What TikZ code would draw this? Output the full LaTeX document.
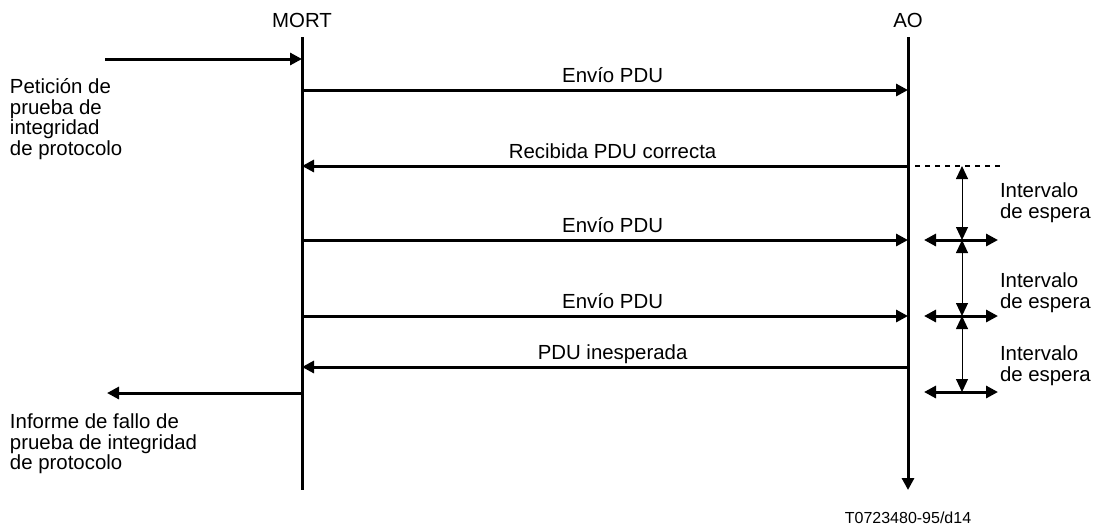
\documentclass[tikz,border=0pt]{standalone}
\usepackage{fontspec}
\setmainfont{Liberation Sans}
\usetikzlibrary{arrows.meta}

\begin{document}
\begin{tikzpicture}[x=0.5pt,y=-0.5pt,
  txt/.style={font=\fontsize{10.2}{10.3}\selectfont,inner sep=0,outer sep=0},
  lbl/.style={txt,align=left,anchor=west},
  msglbl/.style={txt,anchor=base,yshift=3.8pt,xshift=3.8pt},
  life/.style={line width=1.5pt},
  msg/.style={line width=1.5pt,-{Triangle[length=6pt,width=6pt]}},
  wait/.style={line width=0.5pt,{Triangle[length=6.5pt,width=6pt]}-{Triangle[length=6.5pt,width=6pt]}},
  tick/.style={line width=1.5pt,{Triangle[length=6pt,width=6pt]}-{Triangle[length=6pt,width=6pt]}}]
\useasboundingbox (0,0) rectangle (1095,527);

\node[txt] (MORT) at (302,20) {MORT};
\node[txt] (AO) at (908,20) {AO};
\coordinate (M0) at (302,37);
\coordinate (M1) at (302,490);
\coordinate (A0) at (908,37);
\coordinate (A1) at (908,490);
\draw[life] (M0) -- (M1);
\draw[msg] (A0) -- (A1);

\coordinate (req) at (105,59);
\coordinate (mreq) at (302,59);
\draw[msg] (req) -- (mreq);
\node[lbl] (reqlbl) at (10,119) {Petición de\\prueba de\\integridad\\de protocolo};

\coordinate (m1) at (302,90);
\coordinate (a1) at (908,90);
\coordinate (m2) at (302,166);
\coordinate (a2) at (908,166);
\coordinate (m3) at (302,240);
\coordinate (a3) at (908,240);
\coordinate (m4) at (302,316);
\coordinate (a4) at (908,316);
\coordinate (m5) at (302,367);
\coordinate (a5) at (908,367);
\draw[msg] (m1) -- node[msglbl] {Envío PDU} (a1);
\draw[msg] (a2) -- node[msglbl] {Recibida PDU correcta} (m2);
\draw[msg] (m3) -- node[msglbl] {Envío PDU} (a3);
\draw[msg] (m4) -- node[msglbl] {Envío PDU} (a4);
\draw[msg] (a5) -- node[msglbl] {PDU inesperada} (m5);

\coordinate (mrep) at (302,393);
\coordinate (rep) at (107,393);
\draw[msg] (mrep) -- (rep);
\node[lbl] (replbl) at (10,444) {Informe de fallo de\\prueba de integridad\\de protocolo};

\coordinate (dL) at (915,166);
\coordinate (dR) at (1000,166);
\draw[line width=0.7pt,dash pattern=on 2.5pt off 2.5pt] (dL) -- (dR);

\coordinate (w0) at (962,166);
\coordinate (w1) at (962,240);
\coordinate (w2) at (962,316);
\coordinate (w3) at (962,392);
\draw[wait] (w0) -- (w1);
\draw[wait] (w1) -- (w2);
\draw[wait] (w2) -- (w3);

\coordinate (t1l) at (924,240);
\coordinate (t1r) at (998,240);
\coordinate (t2l) at (924,316);
\coordinate (t2r) at (998,316);
\coordinate (t3l) at (924,392);
\coordinate (t3r) at (998,392);
\draw[tick] (t1l) -- (t1r);
\draw[tick] (t2l) -- (t2r);
\draw[tick] (t3l) -- (t3r);

\node[lbl] (int1) at (1000,203) {Intervalo\\de espera};
\node[lbl] (int2) at (1000,293) {Intervalo\\de espera};
\node[lbl] (int3) at (1000,366) {Intervalo\\de espera};

\node[font=\fontsize{8}{9.6}\selectfont,inner sep=0,anchor=base] (fig) at (908,523) {T0723480-95/d14};
\end{tikzpicture}
\end{document}
